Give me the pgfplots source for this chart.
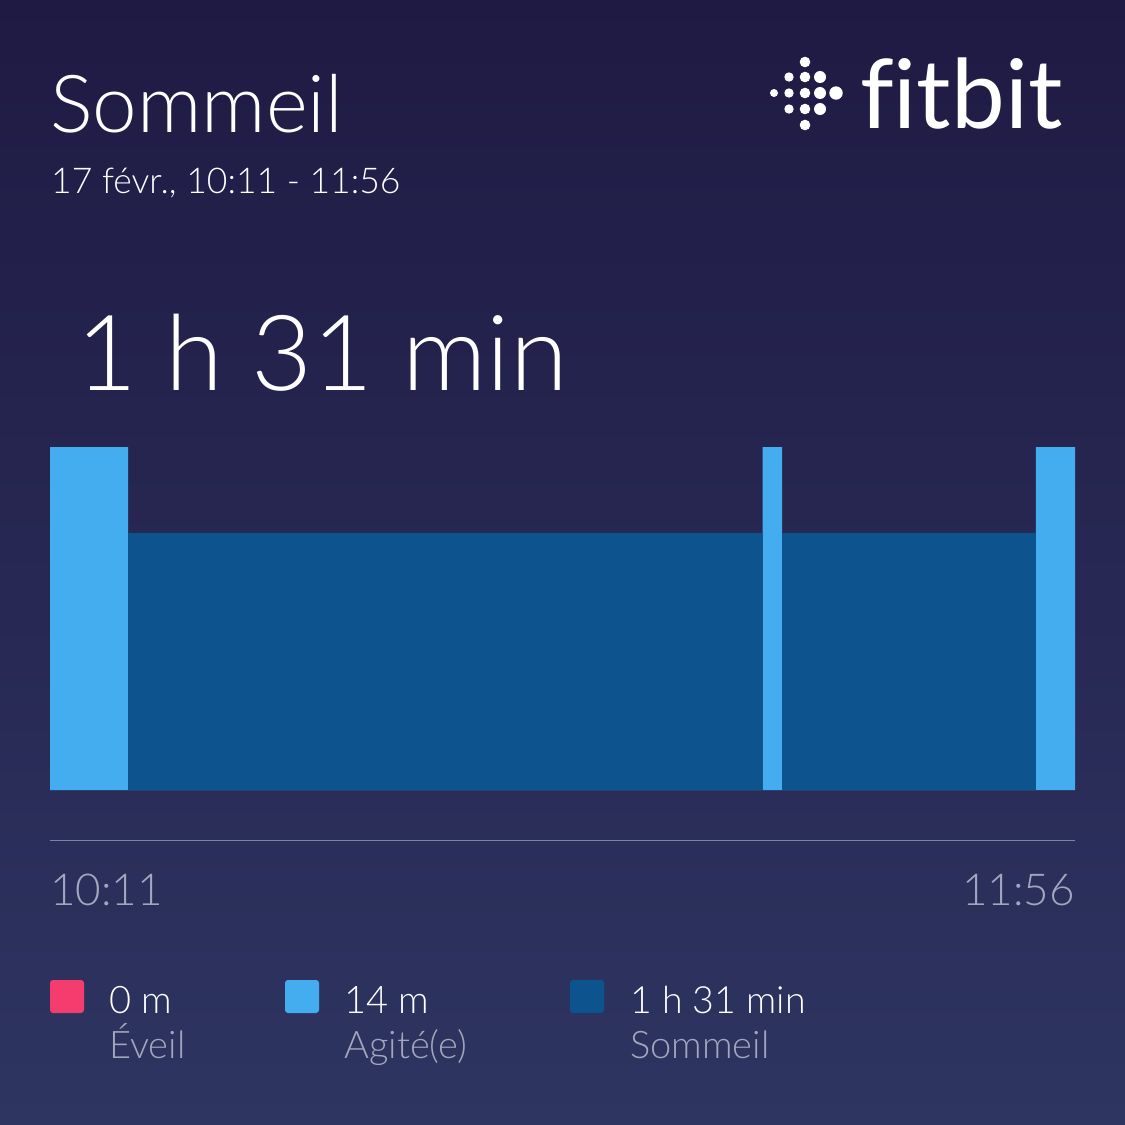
\documentclass[border=0pt]{standalone}
\usepackage{pgfplots}
\pgfplotsset{compat=1.18}
\usepackage{fontspec}
\setmainfont{Lato}
\newfontfamily\lightfont{Lato Light}
\definecolor{bgtop}{HTML}{1F1A44}
\definecolor{bgbot}{HTML}{2E3561}
\definecolor{restless}{HTML}{44ADF0}
\definecolor{asleep}{HTML}{0D548F}
\definecolor{awake}{HTML}{F43D6E}
\definecolor{greytxt}{HTML}{A3A6BF}
\definecolor{sepline}{HTML}{7F839E}
\begin{document}
\begin{tikzpicture}
\begin{scope}[x=1pt,y=-1pt]
\shade[top color=bgtop, bottom color=bgbot] (0,0) rectangle (1125,1125);
\coordinate (axorig) at (50,790);
% title
\node[anchor=base west, inner sep=0, text=white] at (50,132) {\lightfont\fontsize{80}{90}\selectfont Sommeil};
\node[anchor=base west, inner sep=0, text=white] at (51,193) {\lightfont\fontsize{35.5}{44}\selectfont 17 févr., 10:11 - 11:56};
\node[anchor=base west, inner sep=0, text=white] at (76,390) {\lightfont\fontsize{105}{120}\selectfont 1 h 31 min};
% fitbit logo
\foreach \xx/\yy/\rr in {774/93/4, 789/77/4.7, 789/93/4.7, 789/109/4.7,
  805/62/5.3, 805/77/5.3, 805/93/5.3, 805/109/5.3, 805/125/5.3,
  820/77/6, 820/93/6, 820/109/6, 836/93/6.7}
  \fill[white] (\xx,\yy) circle (\rr);
\node[anchor=base west, inner sep=0, text=white] at (860,128) {\fontsize{96}{110}\selectfont\addfontfeature{Ligatures=NoCommon}fitbit};
% separator
\draw[sepline, line width=1pt] (50,840) -- (1075,840);
% legend
\fill[awake, rounded corners=3pt] (50,980) rectangle (84,1013);
\fill[restless, rounded corners=3pt] (285,980) rectangle (319,1013);
\fill[asleep, rounded corners=3pt] (570,980) rectangle (604,1013);
\node[anchor=base west, inner sep=0, text=white] at (109,1013) {\lightfont\fontsize{38}{44}\selectfont 0 m};
\node[anchor=base west, inner sep=0, text=greytxt] at (109,1058) {\lightfont\fontsize{38}{44}\selectfont Éveil};
\node[anchor=base west, inner sep=0, text=white] at (344,1013) {\lightfont\fontsize{38}{44}\selectfont 14 m};
\node[anchor=base west, inner sep=0, text=greytxt] at (344,1058) {\lightfont\fontsize{38}{44}\selectfont Agité(e)};
\node[anchor=base west, inner sep=0, text=white] at (630,1013) {\lightfont\fontsize{37.5}{44}\selectfont 1 h 31 min};
\node[anchor=base west, inner sep=0, text=greytxt] at (630,1058) {\lightfont\fontsize{38}{44}\selectfont Sommeil};
\end{scope}
\begin{axis}[
  at={(axorig)}, anchor=south west,
  scale only axis, width=1025pt, height=343pt,
  xmin=0, xmax=105, ymin=0, ymax=1,
  axis line style={draw=none},
  ytick=\empty,
  xtick={0}, xticklabels={10:11},
  extra x ticks={105}, extra x tick labels={11:56},
  major tick length=0pt,
  xticklabel style={anchor=base west, inner sep=0pt, yshift=-115pt, text=greytxt, font=\lightfont\fontsize{44}{50}\selectfont},
  extra x tick style={xticklabel style={anchor=base east}, grid=none},
]
\addplot[ybar interval, fill=restless, draw=none] coordinates {(0,1) (8,0) (73,1) (75,0) (101,1) (105,1)};
\addplot[ybar interval, fill=asleep, draw=none] coordinates {(0,0) (8,0.75) (73,0) (75,0.75) (101,0) (105,0)};
\end{axis}
\pgfresetboundingbox
\useasboundingbox (0,0) rectangle (1125pt,-1125pt);
\end{tikzpicture}
\end{document}
